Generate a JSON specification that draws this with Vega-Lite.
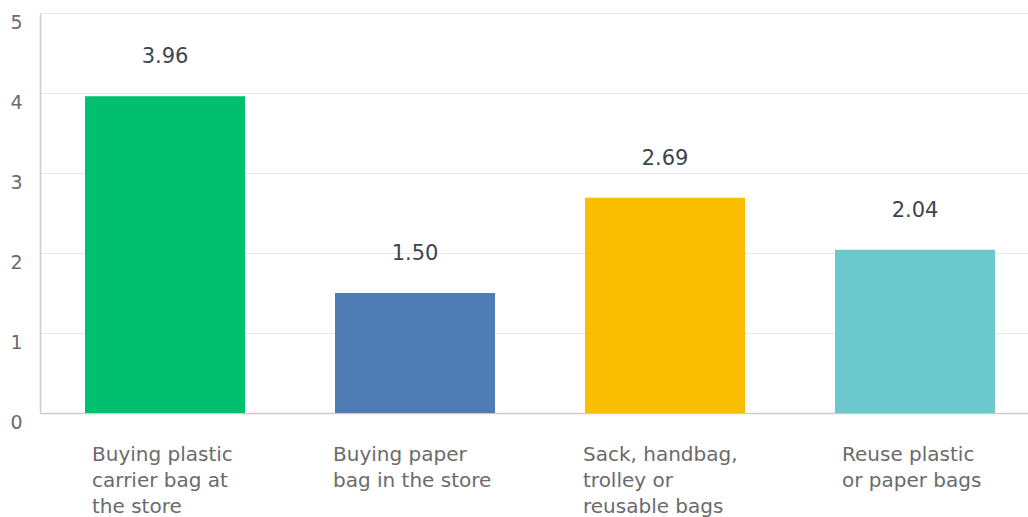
{
  "$schema": "https://vega.github.io/schema/vega-lite/v6.json",
  "width": 988,
  "height": 400,
  "autosize": {"type": "none"},
  "padding": {"left": 40, "top": 13, "right": 0, "bottom": 104},
  "background": "white",
  "config": {"view": {"stroke": null}, "font": "DejaVu Sans"},
  "data": {
    "values": [
      {"answer": "Buying plastic|carrier bag at|the store", "score": 3.96},
      {"answer": "Buying paper|bag in the store", "score": 1.50},
      {"answer": "Sack, handbag,|trolley or|reusable bags", "score": 2.69},
      {"answer": "Reuse plastic|or paper bags", "score": 2.04}
    ]
  },
  "encoding": {
    "x": {
      "field": "answer",
      "type": "nominal",
      "sort": null,
      "scale": {"paddingInner": 0.36, "paddingOuter": 0.156, "align": 0.577},
      "axis": {
        "title": null,
        "labelAngle": 0,
        "labelExpr": "split(datum.label, '|')",
        "labelAlign": "left",
        "labelBaseline": "top",
        "labelOffset": {"condition": {"test": "datum.value == 'Buying plastic|carrier bag at|the store' || datum.value == 'Reuse plastic|or paper bags'", "value": -73}, "value": -82},
        "labelPadding": 31,
        "labelLineHeight": 26,
        "labelFontSize": 20,
        "labelColor": "#6b6b6b",
        "labelLimit": 300,
        "labelOverlap": false,
        "ticks": false,
        "domain": true,
        "domainColor": "#cccccc",
        "domainWidth": 1.5
      }
    }
  },
  "layer": [
    {
      "mark": {"type": "bar"},
      "encoding": {
        "y": {
          "field": "score",
          "type": "quantitative",
          "scale": {"domain": [0, 5], "nice": false},
          "axis": {
            "title": null,
            "values": [0, 1, 2, 3, 4, 5],
            "format": "d",
            "ticks": false,
            "domain": true,
            "domainColor": "#cccccc",
            "domainWidth": 1.5,
            "grid": true,
            "gridColor": "#e8e8e8",
            "labelBaseline": "top",
            "labelAlign": "right",
            "labelPadding": 18,
            "labelFontSize": 19,
            "labelColor": "#6b6b6b",
            "labelOverlap": false,
            "labelFlush": false
          }
        },
        "color": {
          "field": "answer",
          "type": "nominal",
          "sort": null,
          "scale": {"range": ["#00bf6f", "#507cb6", "#f9be00", "#6bc8cd"]},
          "legend": null
        }
      }
    },
    {
      "mark": {"type": "text", "dy": -39, "baseline": "middle", "fontSize": 21, "color": "#3b4650"},
      "encoding": {
        "y": {"field": "score", "type": "quantitative"},
        "text": {"field": "score", "type": "quantitative", "format": ".2f"}
      }
    }
  ]
}
